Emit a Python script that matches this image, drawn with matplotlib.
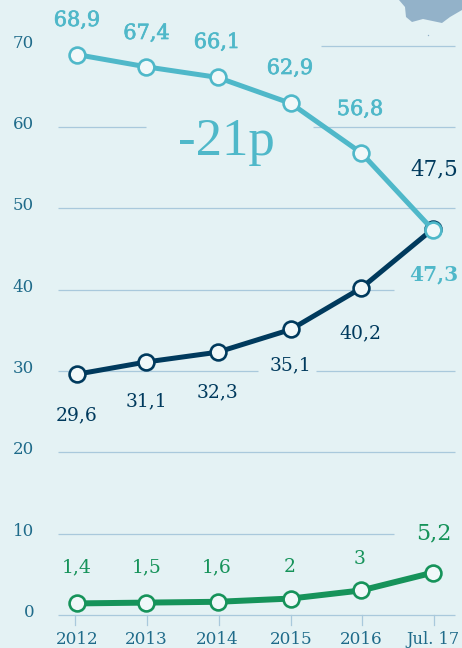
import matplotlib
matplotlib.use("Agg")
import matplotlib.pyplot as plt
import matplotlib.patheffects as pe

W, H = 462, 648
BG = "#e4f2f4"
BLUE = "#4fb8c9"
DARK = "#003a5d"
GREEN = "#16935a"
AXIS = "#1f6b8a"
GRID = "#a9c9dc"

tick_labels = ["2012", "2013", "2014", "2015", "2016", "Jul. 17"]
x_vals = [0, 0.97, 1.97, 3.0, 3.99, 5.0]
tick_x = [-0.03, 0.98, 1.99, 3.0, 4.0, 5.01]

blue_vals = [68.9, 67.4, 66.1, 62.9, 56.8, 47.3]
dark_vals = [29.6, 31.1, 32.3, 35.1, 40.2, 47.5]
green_vals = [1.4, 1.5, 1.6, 2, 3, 5.2]

blue_text = ["68,9", "67,4", "66,1", "62,9", "56,8", "47,3"]
dark_text = ["29,6", "31,1", "32,3", "35,1", "40,2", "47,5"]
green_text = ["1,4", "1,5", "1,6", "2", "3", "5,2"]

y_ticks = [0, 10, 20, 30, 40, 50, 60, 70]

# pixel <-> data scale of the picture
x0, xstep = 77.3, 71.2
y0, ystep = 614.8, 8.13


def px_x(p):
    return (p - x0) / xstep


def px_y(p):
    return (y0 - p) / ystep


fig = plt.figure(figsize=(W / 100, H / 100), dpi=100, facecolor=BG)
ax = fig.add_axes([0, 0, 1, 1])
ax.set_xlim(px_x(0), px_x(W))
ax.set_ylim(px_y(H), px_y(0))
ax.axis("off")
plt.rcParams["font.family"] = "DejaVu Serif"

# grid lines, broken where the labels sit
segments = {
    70: [(321, 455)],
    60: [(58, 146), (313, 455)],
    50: [(58, 455)],
    40: [(58, 394)],
    30: [(58, 258), (316, 455)],
    20: [(58, 455)],
    10: [(58, 394)],
    0: [(58, 455)],
}
for v in y_ticks:
    for a, b in segments[v]:
        ax.plot([px_x(a), px_x(b)], [v, v], color=GRID, lw=0.9, zorder=1, solid_capstyle="butt")
    ax.text(px_x(34), v + px_y(0) - px_y(2.5), str(v), color=AXIS, fontsize=12, ha="right", va="center")

for x, lx, lab in zip(tick_x, x_vals, tick_labels):
    ax.plot([x, x], [0, px_y(625)], color=GRID, lw=0.9, zorder=1)
    ax.text(lx, px_y(639), lab, color=AXIS, fontsize=12.2 if lab != "Jul. 17" else 11.6, ha="center", va="center")

# little piece of the map in the corner
map_x = [399, 405, 406, 412, 423, 442, 450, 462, 462, 399]
map_y = [0, 7, 17, 22, 19, 23, 17, 10, 0, 0]
ax.fill([px_x(p) for p in map_x], [px_y(p) for p in map_y], color="#93b2c9", lw=0, zorder=1)
ax.plot([px_x(427.5)], [px_y(35)], marker="o", ms=1, color="#93b2c9", mew=0, zorder=1)


def draw_line(vals, color, lw, z):
    ax.plot(x_vals, vals, color=color, lw=lw, zorder=z, marker="o", ms=11.4, mew=1.9,
            mfc="#f0f8f9", mec=color, solid_capstyle="round", solid_joinstyle="round")


draw_line(dark_vals, DARK, 3.6, 3)
draw_line(blue_vals, BLUE, 3.6, 4)
draw_line(green_vals, GREEN, 4.3, 3)

blue_y = [20.5, 33.5, 42.5, 68.5, 109.5, 274.5]
dark_y = [415.5, 401.5, 392.5, 365.5, 333.5, 169.5]
green_y = [567.5, 567.5, 567.5, 567.5, 558.5, 533.5]
label_x = [77, 146.5, 217, 290, 360, 434]

thick = [pe.withStroke(linewidth=0.5, foreground=BLUE)]
for px, py, t in zip(label_x, blue_y, blue_text):
    bold = t == "47,3"
    ax.text(px_x(px), px_y(py), t, color=BLUE, fontsize=14.5 if bold else 15, ha="center", va="center",
            fontweight="bold" if bold else "normal", zorder=5, path_effects=None if bold else thick)
for px, py, t in zip(label_x, dark_y, dark_text):
    ax.text(px_x(px), px_y(py), t, color=DARK, fontsize=15.5 if t == "47,5" else 13.5, ha="center", va="center", zorder=5)
for px, py, t in zip(label_x, green_y, green_text):
    ax.text(px_x(px), px_y(py), t, color=GREEN, fontsize=16 if t == "5,2" else 13.5, ha="center", va="center", zorder=5)

ax.text(px_x(226), px_y(142), "-21p", color=BLUE, fontsize=38, family="Liberation Serif", ha="center", va="center", zorder=5)

fig.savefig("out.png", dpi=100, facecolor=BG)
